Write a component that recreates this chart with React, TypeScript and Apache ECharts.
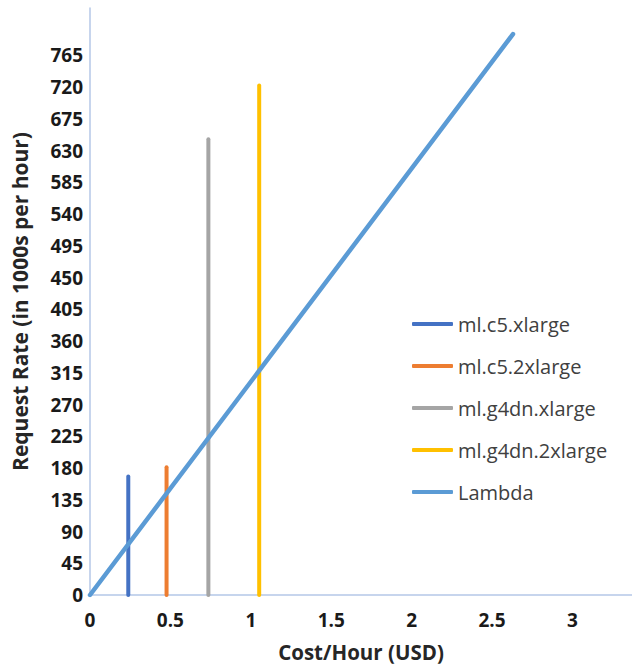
import React, { useEffect, useRef } from "react";
import * as echarts from "echarts";

const seriesNames = ["ml.c5.xlarge", "ml.c5.2xlarge", "ml.g4dn.xlarge", "ml.g4dn.2xlarge", "Lambda"];
const seriesColors = ["#4472C4", "#ED7D31", "#A5A5A5", "#FFC000", "#5B9BD5"];
// Instance lines: [cost per hour, max request rate]
const instanceCost = [0.238, 0.476, 0.736, 1.052];
const instanceRate = [168, 181, 646, 722];
// Lambda line points
const lambdaCost = [0, 2.63];
const lambdaRate = [0, 795];
// y tick labels stop at 765
const yLabelMax = 765;

export default function App() {
  const ref = useRef<HTMLDivElement>(null);
  useEffect(() => {
    if (!ref.current) return;
    const chart = echarts.init(ref.current, null, { renderer: "svg" });
    const font = "'Open Sans', Lato, sans-serif";
    const series: any[] = instanceCost.map((c, i) => ({
      name: seriesNames[i],
      type: "line",
      data: [
        [c, 0],
        [c, instanceRate[i]],
      ],
      showSymbol: false,
      lineStyle: { width: 4, color: seriesColors[i], cap: "round" },
      itemStyle: { color: seriesColors[i] },
    }));
    series.push({
      name: seriesNames[4],
      type: "line",
      data: lambdaCost.map((c, i) => [c, lambdaRate[i]]),
      showSymbol: false,
      lineStyle: { width: 4.5, color: seriesColors[4], cap: "round" },
      itemStyle: { color: seriesColors[4] },
    });
    chart.setOption({
      animation: false,
      backgroundColor: "#ffffff",
      grid: { left: 90, right: 0, top: 8, bottom: 75 },
      legend: {
        orient: "vertical",
        left: 407,
        top: 309,
        itemWidth: 41,
        itemHeight: 4,
        itemGap: 22,
        icon: "roundRect",
        data: seriesNames,
        textStyle: { fontFamily: font, fontSize: 20, color: "#404040" },
      },
      xAxis: {
        type: "value",
        min: 0,
        max: 3.37,
        interval: 0.5,
        name: "Cost/Hour (USD)",
        nameLocation: "middle",
        nameGap: 46,
        nameTextStyle: { fontFamily: font, fontSize: 20.5, fontWeight: "bold", color: "#262626" },
        axisLine: { show: true, lineStyle: { color: "#B4C7E7", width: 1.5 } },
        axisTick: { show: false },
        splitLine: { show: false },
        axisLabel: {
          showMaxLabel: false,
          margin: 15,
          fontFamily: font,
          fontSize: 19,
          fontWeight: "bold",
          color: "#1a1a1a",
        },
      },
      yAxis: {
        type: "value",
        min: 0,
        max: 832,
        interval: 45,
        name: "Request Rate (in 1000s per hour)",
        nameLocation: "middle",
        nameGap: 60,
        nameTextStyle: { fontFamily: font, fontSize: 21, fontWeight: "bold", color: "#262626" },
        axisLine: { show: true, lineStyle: { color: "#B4C7E7", width: 1.5 } },
        axisTick: { show: false },
        splitLine: { show: false },
        axisLabel: {
          showMaxLabel: false,
          margin: 7,
          padding: [0, 0, 6, 0],
          formatter: (v: number) => (v > yLabelMax ? "" : String(v)),
          fontFamily: font,
          fontSize: 19,
          fontWeight: "bold",
          color: "#1a1a1a",
        },
      },
      series,
    });
    return () => chart.dispose();
  }, []);
  return (
    <div
      ref={ref}
      style={{ position: "fixed", left: 0, top: 0, width: 632, height: 670, background: "#fff" }}
    />
  );
}
